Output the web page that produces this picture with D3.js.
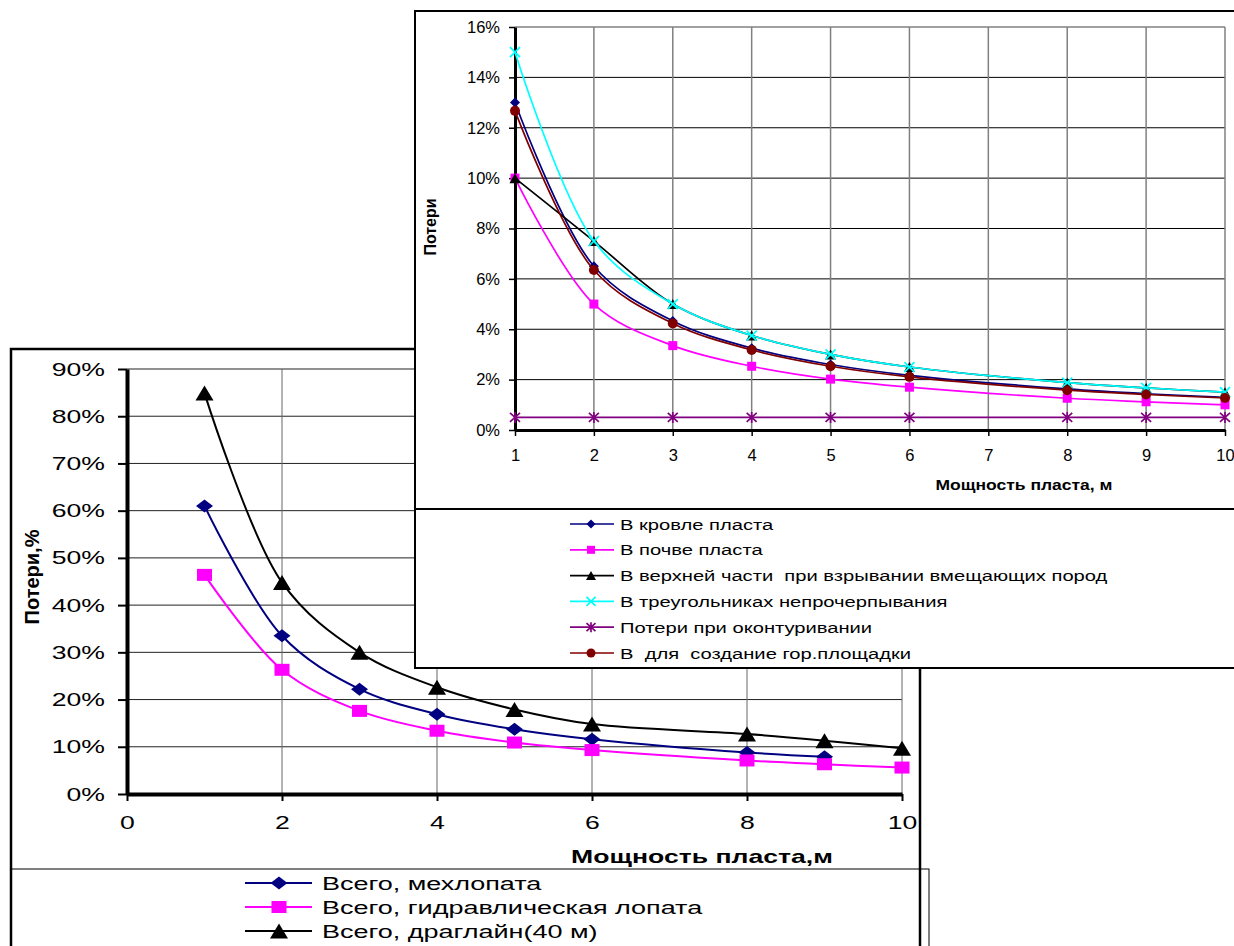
<!DOCTYPE html>
<html><head><meta charset="utf-8">
<script src="https://cdn.jsdelivr.net/npm/d3@7"></script>
<style>
html,body{margin:0;padding:0;background:#fff;}
svg{display:block;font-family:"Liberation Sans",Arial,sans-serif;}
text{white-space:pre;}
</style></head><body>
<svg id="c" width="1234" height="946"></svg>
<script>
// ---------- DATA: lower chart (total losses) ----------
const lowerThickness = [1, 2, 3, 4, 5, 6, 8, 9, 10];
const totalShovel    = [61, 33.5, 22.2, 16.9, 13.7, 11.6, 8.8, 7.9, null];
const totalHydraulic = [46.4, 26.3, 17.6, 13.4, 10.9, 9.3, 7.1, 6.3, 5.6];
const totalDragline  = [84.9, 44.8, 30, 22.6, 17.9, 14.8, 12.7, 11.3, 9.7];
const lowerNames = ["Всего, мехлопата", "Всего, гидравлическая лопата", "Всего, драглайн(40 м)"];
const lowerYTicks = [0, 10, 20, 30, 40, 50, 60, 70, 80, 90];
const lowerXTicks = [0, 2, 4, 6, 8, 10];

// ---------- DATA: upper chart (loss components) ----------
const upperThickness = [1, 2, 3, 4, 5, 6, 8, 9, 10];
const lossRoof      = [13, 6.5, 4.33, 3.25, 2.6, 2.17, 1.63, 1.44, 1.3];
const lossFloor     = [10, 5, 3.35, 2.53, 2.02, 1.7, 1.26, 1.12, 1.0];
const lossUpperBlast= [10, 7.5, 5, 3.75, 3, 2.5, 1.88, 1.67, 1.5];
const lossTriangles = [15, 7.5, 5, 3.75, 3, 2.5, 1.88, 1.67, 1.5];
const lossContour   = [0.5, 0.5, 0.5, 0.5, 0.5, 0.5, 0.5, 0.5, 0.5];
const lossPlatform  = [12.67, 6.35, 4.23, 3.18, 2.53, 2.11, 1.58, 1.41, 1.27];
const upperNames = ["В кровле пласта", "В почве пласта", "В верхней части  при взрывании вмещающих пород",
                    "В треугольниках непрочерпывания", "Потери при оконтуривании", "В  для  создание гор.площадки"];
const upperYTicks = [0, 2, 4, 6, 8, 10, 12, 14, 16];
const upperXTicks = [1, 2, 3, 4, 5, 6, 7, 8, 9, 10];

const svg = d3.select("#c");

// marker drawing
function marker(g, type, x, y, color, w, h) {
  const hw = w / 2, hh = h / 2;
  if (type === "diamond") {
    g.append("path").attr("d", `M${x},${y-hh}L${x+hw},${y}L${x},${y+hh}L${x-hw},${y}Z`).attr("fill", color);
  } else if (type === "square") {
    g.append("rect").attr("x", x-hw).attr("y", y-hh).attr("width", w).attr("height", h).attr("fill", color);
  } else if (type === "triangle") {
    g.append("path").attr("d", `M${x},${y-hh}L${x+hw},${y+hh}L${x-hw},${y+hh}Z`).attr("fill", color);
  } else if (type === "x") {
    g.append("path").attr("d", `M${x-hw},${y-hh}L${x+hw},${y+hh}M${x-hw},${y+hh}L${x+hw},${y-hh}`)
      .attr("stroke", color).attr("stroke-width", 1.7).attr("fill", "none");
  } else if (type === "star") {
    g.append("path").attr("d", `M${x-hw},${y-hh}L${x+hw},${y+hh}M${x-hw},${y+hh}L${x+hw},${y-hh}M${x},${y-hh-1}L${x},${y+hh+1}`)
      .attr("stroke", color).attr("stroke-width", 1.7).attr("fill", "none");
  } else if (type === "circle") {
    g.append("circle").attr("cx", x).attr("cy", y).attr("r", hw).attr("fill", color);
  }
}

// ================= LOWER CHART =================
const L = svg.append("g");
const LX = d3.scaleLinear().domain([0, 10]).range([127, 902]);
const LY = d3.scaleLinear().domain([0, 90]).range([794, 369]);
const LS = 1.4;   // horizontal text stretch
const LLS = 1.46; // legend text stretch

L.append("rect").attr("x", 11).attr("y", 349).attr("width", 909).attr("height", 640)
  .attr("fill", "#fff").attr("stroke", "none");
L.append("rect").attr("x", 11).attr("y", 869).attr("width", 918).attr("height", 120)
  .attr("fill", "none").attr("stroke", "#000").attr("stroke-width", 1);
L.append("rect").attr("x", 11).attr("y", 349).attr("width", 909).attr("height", 640)
  .attr("fill", "none").attr("stroke", "#000").attr("stroke-width", 2.5);

// grid
L.append("g").selectAll("line").data(lowerYTicks.filter(d => d > 0)).join("line")
  .attr("x1", LX(0)).attr("x2", LX(10)).attr("y1", d => LY(d)).attr("y2", d => LY(d))
  .attr("stroke", "#222").attr("stroke-width", 1);
L.append("g").selectAll("line").data(lowerXTicks.filter(d => d > 0)).join("line")
  .attr("x1", d => LX(d)).attr("x2", d => LX(d)).attr("y1", LY(90)).attr("y2", LY(0))
  .attr("stroke", "#666").attr("stroke-width", 1);

// axes
const lyAxis = L.append("g").attr("transform", `translate(${LX(0)},0)`)
  .call(d3.axisLeft(LY).tickValues(lowerYTicks).tickSize(9).tickSizeOuter(0).tickFormat(d => d + "%"));
lyAxis.select(".domain").attr("stroke-width", 4);
lyAxis.selectAll(".tick line").attr("stroke-width", 2);
lyAxis.selectAll("text").attr("font-size", 19).attr("font-family", "Liberation Sans, Arial, sans-serif")
  .attr("fill", "#000").attr("x", -22 / LS).attr("transform", `scale(${LS},1)`);

const lxAxis = L.append("g").attr("transform", `translate(0,${LY(0)})`)
  .call(d3.axisBottom(LX).tickValues(lowerXTicks).tickSize(7).tickPadding(15).tickSizeOuter(0));
lxAxis.select(".domain").attr("stroke-width", 4);
lxAxis.selectAll(".tick line").attr("stroke-width", 2);
lxAxis.selectAll("text").attr("font-size", 19).attr("font-family", "Liberation Sans, Arial, sans-serif")
  .attr("fill", "#000").attr("transform", `scale(${LS},1)`);

// titles
L.append("text").attr("transform", `translate(702,863) scale(${LS},1)`).attr("text-anchor", "middle")
  .attr("font-size", 19).attr("font-weight", "bold").text("Мощность пласта,м");
L.append("text").attr("transform", `translate(39,577) rotate(-90)`).attr("text-anchor", "middle")
  .attr("font-size", 20).attr("font-weight", "bold").text("Потери,%");

// series
const lowerSeries = [
  {vals: totalShovel, color: "#000080", m: "diamond", w: 17, h: 13},
  {vals: totalHydraulic, color: "#FF00FF", m: "square", w: 15, h: 12},
  {vals: totalDragline, color: "#000000", m: "triangle", w: 18, h: 15}
];
const lLine = d3.line().x(d => LX(d.x)).y(d => LY(d.v)).curve(d3.curveCatmullRom.alpha(0.5));
lowerSeries.forEach(s => {
  const pts = lowerThickness.map((x, i) => ({x, v: s.vals[i]})).filter(d => d.v != null);
  L.append("path").datum(pts).attr("d", lLine).attr("fill", "none").attr("stroke", s.color).attr("stroke-width", 2);
});
lowerSeries.forEach(s => {
  const mg = L.append("g");
  lowerThickness.forEach((x, i) => { if (s.vals[i] != null) marker(mg, s.m, LX(x), LY(s.vals[i]), s.color, s.w, s.h); });
});

// legend
lowerSeries.forEach((s, i) => {
  const cy = 883 + i * 24;
  L.append("line").attr("x1", 245).attr("x2", 312).attr("y1", cy).attr("y2", cy).attr("stroke", s.color).attr("stroke-width", 2);
  marker(L, s.m, 279, cy, s.color, s.w, s.h);
  L.append("text").attr("transform", `translate(322,${cy + 7}) scale(${LLS},1)`).attr("font-size", 18.5).text(lowerNames[i]);
});

// ================= UPPER CHART =================
const U = svg.append("g");
const UX = d3.scaleLinear().domain([1, 10]).range([515, 1225]);
const UY = d3.scaleLinear().domain([0, 16]).range([430, 27]);
const US = 1.3;

U.append("rect").attr("x", 415).attr("y", 11).attr("width", 840).attr("height", 657)
  .attr("fill", "#fff").attr("stroke", "#000").attr("stroke-width", 2);
U.append("line").attr("x1", 415).attr("x2", 1240).attr("y1", 509).attr("y2", 509).attr("stroke", "#000").attr("stroke-width", 2);

// grid
U.append("g").selectAll("line").data(upperYTicks.filter(d => d > 0)).join("line")
  .attr("x1", UX(1)).attr("x2", UX(10)).attr("y1", d => UY(d)).attr("y2", d => UY(d))
  .attr("stroke", d => d === 16 ? "#808080" : "#000").attr("stroke-width", d => d === 16 ? 1.5 : 1);
U.append("g").selectAll("line").data(upperXTicks.filter(d => d > 1)).join("line")
  .attr("x1", d => UX(d)).attr("x2", d => UX(d)).attr("y1", UY(16)).attr("y2", UY(0))
  .attr("stroke", "#808080").attr("stroke-width", 1.5);

const uyAxis = U.append("g").attr("transform", `translate(${UX(1)},0)`)
  .call(d3.axisLeft(UY).tickValues(upperYTicks).tickSize(6).tickPadding(9).tickSizeOuter(0).tickFormat(d => d + "%"));
uyAxis.select(".domain").attr("stroke-width", 3);
uyAxis.selectAll(".tick line").attr("stroke-width", 1.5);
uyAxis.selectAll("text").attr("font-size", 16.5).attr("font-family", "Liberation Sans, Arial, sans-serif").attr("fill", "#000");

const uxAxis = U.append("g").attr("transform", `translate(0,${UY(0)})`)
  .call(d3.axisBottom(UX).tickValues(upperXTicks).tickSize(6).tickPadding(13).tickSizeOuter(0));
uxAxis.select(".domain").attr("stroke-width", 3);
uxAxis.selectAll(".tick line").attr("stroke-width", 1.5);
uxAxis.selectAll("text").attr("font-size", 16.5).attr("font-family", "Liberation Sans, Arial, sans-serif").attr("fill", "#000");

U.append("text").attr("transform", `translate(1024,490) scale(1.25,1)`).attr("text-anchor", "middle")
  .attr("font-size", 14).attr("font-weight", "bold").text("Мощность пласта, м");
U.append("text").attr("transform", `translate(436,227) rotate(-90)`).attr("text-anchor", "middle")
  .attr("font-size", 16).attr("font-weight", "bold").text("Потери");

const upperSeries = [
  {vals: lossRoof, color: "#000080", m: "diamond", w: 10, h: 10},
  {vals: lossFloor, color: "#FF00FF", m: "square", w: 9, h: 9},
  {vals: lossUpperBlast, color: "#000000", m: "triangle", w: 11, h: 10},
  {vals: lossTriangles, color: "#00FFFF", m: "x", w: 10, h: 10},
  {vals: lossContour, color: "#800080", m: "star", w: 10, h: 9},
  {vals: lossPlatform, color: "#800000", m: "circle", w: 10, h: 10}
];
const uLine = d3.line().x(d => UX(d.x)).y(d => UY(d.v)).curve(d3.curveCatmullRom.alpha(0.5));
upperSeries.forEach(s => {
  const pts = upperThickness.map((x, i) => ({x, v: s.vals[i]}));
  U.append("path").datum(pts).attr("d", uLine).attr("fill", "none").attr("stroke", s.color).attr("stroke-width", 1.7);
  const mg = U.append("g");
  pts.forEach(p => marker(mg, s.m, UX(p.x), UY(p.v), s.color, s.w, s.h));
});

upperSeries.forEach((s, i) => {
  const cy = 524 + i * 25.8;
  U.append("line").attr("x1", 570).attr("x2", 614).attr("y1", cy).attr("y2", cy).attr("stroke", s.color).attr("stroke-width", 1.7);
  marker(U, s.m, 591, cy, s.color, s.w - 1, s.h - 1);
  U.append("text").attr("transform", `translate(620,${cy + 5.5}) scale(${US},1)`).attr("font-size", 15.5).text(upperNames[i]);
});
</script>
</body></html>
